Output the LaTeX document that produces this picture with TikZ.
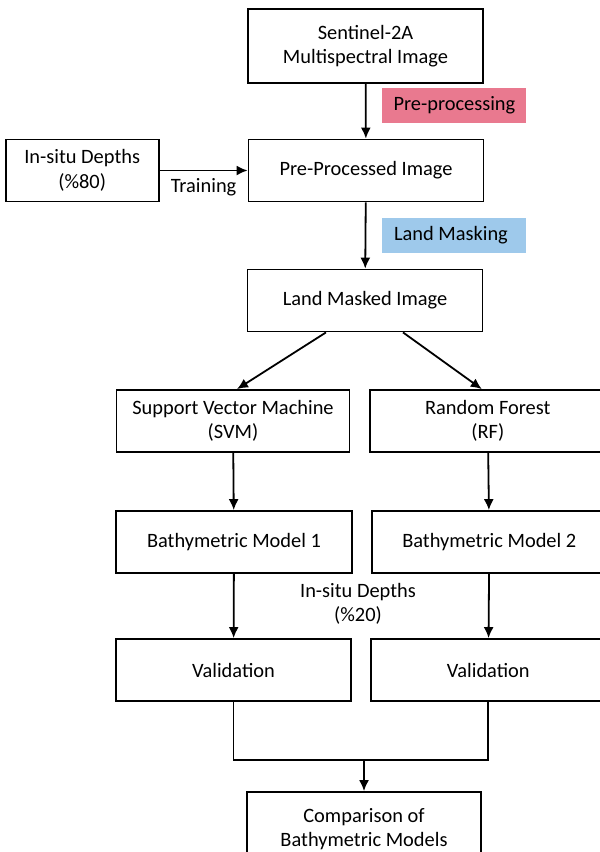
\documentclass[tikz,border=0pt]{standalone}
\usepackage{fontspec}
\setmainfont{Carlito}
\usetikzlibrary{arrows.meta}
\usetikzlibrary{positioning}
\definecolor{prepink}{RGB}{233,121,143}
\definecolor{maskblue}{RGB}{158,201,235}
\tikzset{>={Latex[length=5.5pt,width=5pt]}}
\tikzset{
box/.style = {draw, align=center, inner sep=2pt,
              minimum width=#1, minimum height=31pt},
box/.default = 117.5pt,% width of the flow boxes
steplabel/.style = {fill=#1, text width=60pt, minimum height=17.5pt,
                    inner xsep=6pt, align=flush left}
}

\begin{document}
\begin{tikzpicture}[x=0.5pt, y=-0.5pt, line width=0.9pt,
                    font=\fontsize{10.2}{12.2}\selectfont]
    \clip (0,0) rectangle (600,852);

    % main column
    \node[box, minimum height=37pt] (sentinel) at (365.5,46) {Sentinel-2A\\Multispectral Image};
    \node[box] (preproc) at (366,170.5) {Pre-Processed Image};
    \node[box=76.5pt, left=44pt of preproc] (insitu) {In-situ Depths\\(\%80)};
    \node[box] (landmask) at (365,300.5) {Land Masked Image};

    % the two models
    \node[box=116.5pt] (svm) at (233,421) {Support Vector Machine\\(SVM)};
    \node[box, right=9.5pt of svm] (rf) {Random Forest\\(RF)};
    \node[box=118pt] (bathy1) at (234,542) {Bathymetric Model 1};
    \node[box, right=9pt of bathy1] (bathy2) {Bathymetric Model 2};
    \node[box] (valid1) at (233.5,670) {Validation};
    \node[box, right=9pt of valid1] (valid2) {Validation};
    \node[box=117pt, minimum height=37pt] (compare) at (364,829) {Comparison of\\Bathymetric Models};

    % step labels (kept on one line)
    \node[steplabel=prepink] (prelabel) at (453.5,105) {\mbox{Pre-processing}};
    \node[steplabel=maskblue] (masklabel) at (454,235) {\mbox{Land Masking}};
    \node[align=center] (depth20) at (358,604) {In-situ Depths\\(\%20)};

    \path[->]
    (sentinel) edge (preproc)
    (insitu) edge node[below] {Training} (preproc)
    (preproc) edge (landmask)
    ([xshift=-19.5pt]landmask.south) edge ([xshift=2pt]svm.north)
    ([xshift=19pt]landmask.south) edge ([xshift=-3pt]rf.north)
    (svm) edge (bathy1)
    (rf) edge (bathy2)
    (bathy1) edge (valid1)
    (bathy2) edge (valid2);

    % join the two validations
    \coordinate (join) at (364,760);
    \draw (valid1) |- (join) -| (valid2);
    \draw[->] (join) -- (compare);
\end{tikzpicture}
\end{document}
